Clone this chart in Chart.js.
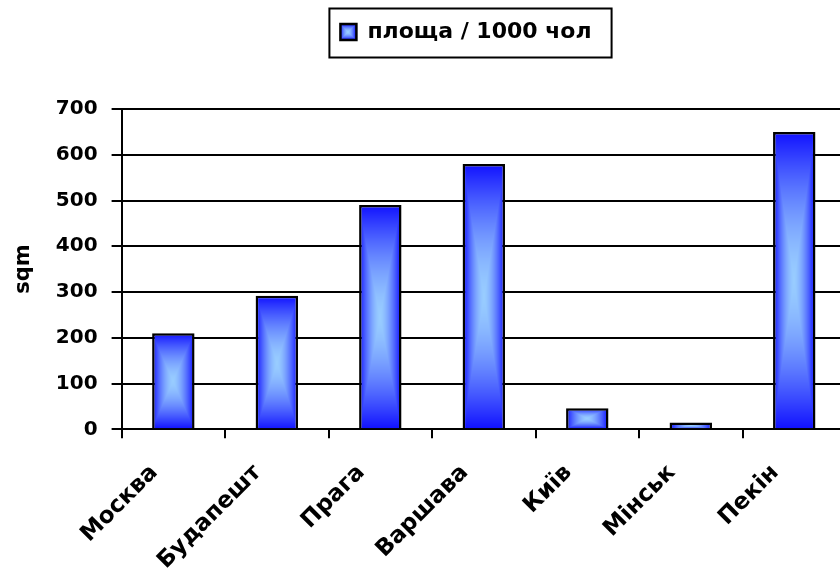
<!DOCTYPE html>
<html>
<head>
<meta charset="utf-8">
<script src="https://cdn.jsdelivr.net/npm/chart.js@4.4.0/dist/chart.umd.min.js"></script>
<style>
  html, body { margin: 0; padding: 0; background: #fff; overflow: hidden; }
  canvas { display: block; }
</style>
</head>
<body>
<canvas id="chart" width="846" height="570"></canvas>
<script>
// dati
const cities = ['Москва', 'Будапешт', 'Прага', 'Варшава', 'Київ', 'Мінськ', 'Пекін'];
const areaPer1000 = [210, 292, 490, 580, 46, 15, 650];
const seriesLabel = 'площа / 1000 чол';
const yTitle = 'sqm';
const yMin = 0, yMax = 700, yStep = 100;

const FONT = "'DejaVu Sans', sans-serif";
const BAR_PCT = 0.41;
const LEGEND_SHIFT = 43;   // la legenda non è centrata sul canvas ma spostata a destra

// gradiente "dal centro" stile Excel: blu ai bordi, azzurro al centro
const EDGE = [16, 16, 255];
const CENTER = [152, 204, 255];
const patternCache = {};

function rectGradient(ctx, left, top, w, h) {
    w = Math.max(1, Math.round(w));
    h = Math.max(1, Math.round(h));
    const key = w + 'x' + h;
    let off = patternCache[key];
    if (!off) {
        off = document.createElement('canvas');
        off.width = w;
        off.height = h;
        const octx = off.getContext('2d');
        const img = octx.createImageData(w, h);
        const hw = w / 2, hh = h / 2;
        for (let j = 0; j < h; j++) {
            for (let i = 0; i < w; i++) {
                let t = Math.min(1, Math.max(Math.abs(i + 0.5 - hw) / hw, Math.abs(j + 0.5 - hh) / hh));
                t = Math.pow(t, 1.6);   // centro chiaro più largo, bordi blu netti
                const p = (j * w + i) * 4;
                img.data[p]     = CENTER[0] + (EDGE[0] - CENTER[0]) * t;
                img.data[p + 1] = CENTER[1] + (EDGE[1] - CENTER[1]) * t;
                img.data[p + 2] = CENTER[2] + (EDGE[2] - CENTER[2]) * t;
                img.data[p + 3] = 255;
            }
        }
        octx.putImageData(img, 0, 0);
        patternCache[key] = off;
    }
    const pat = ctx.createPattern(off, 'no-repeat');
    pat.setTransform(new DOMMatrix().translate(Math.round(left), Math.round(top)));
    return pat;
}

function barFill(c) {
    const chart = c.chart;
    const xs = chart.scales.x, ys = chart.scales.y;
    if (c.type !== 'data' || !chart.chartArea || !xs || !ys) return 'rgb(60, 90, 255)';
    const cx = xs.getPixelForValue(c.dataIndex);
    const w = xs.width / cities.length * BAR_PCT;
    const top = ys.getPixelForValue(areaPer1000[c.dataIndex]);
    const base = ys.getPixelForValue(0);
    return rectGradient(chart.ctx, cx - w / 2, top, w, base - top);
}

// legenda: spostamento, marker sfumato e riquadro nero
const legendFrame = {
    id: 'legendFrame',
    afterLayout(chart) {
        const lg = chart.legend;
        if (!lg) return;
        lg.left += LEGEND_SHIFT;
        lg.right += LEGEND_SHIFT;
    },
    beforeDraw(chart) {
        const lg = chart.legend;
        if (!lg || !lg.legendHitBoxes || !lg.legendHitBoxes.length) return;
        const hb = lg.legendHitBoxes[0];
        const lab = lg.options.labels;
        const fs = lab.font.size;
        const top = hb.top + Math.max((fs - lab.boxHeight) / 2, 0);
        lg.legendItems[0].fillStyle = rectGradient(chart.ctx, hb.left, top, lab.boxWidth, lab.boxHeight);
    },
    afterDraw(chart) {
        const lg = chart.legend;
        if (!lg || !lg.legendHitBoxes || !lg.legendHitBoxes.length) return;
        const hb = lg.legendHitBoxes[0];
        const ctx = chart.ctx;
        ctx.save();
        ctx.strokeStyle = '#000';
        ctx.lineWidth = 2;
        ctx.strokeRect(hb.left - 11, hb.top - 12.5, hb.width + 31, hb.height + 27);
        ctx.restore();
    }
};

new Chart(document.getElementById('chart'), {
    type: 'bar',
    data: {
        labels: cities,
        datasets: [{
            label: seriesLabel,
            data: areaPer1000,
            backgroundColor: barFill,
            borderColor: '#000',
            borderWidth: 2.5,
            categoryPercentage: 1,
            barPercentage: BAR_PCT
        }]
    },
    options: {
        responsive: false,
        animation: false,
        events: [],
        layout: { padding: { top: 11, left: 0, right: 0, bottom: 0 } },
        plugins: {
            legend: {
                position: 'top',
                labels: {
                    color: '#000',
                    font: { family: FONT, size: 22, weight: 'bold' },
                    boxWidth: 16,
                    boxHeight: 16,
                    padding: 10
                }
            },
            // spaziatore vuoto tra legenda e area del grafico
            subtitle: {
                display: true,
                text: '',
                weight: 500,
                font: { size: 1, lineHeight: 1 },
                padding: { top: 0, bottom: 55 }
            },
            tooltip: { enabled: false }
        },
        scales: {
            x: {
                offset: true,
                grid: {
                    offset: true,
                    drawOnChartArea: false,
                    drawTicks: true,
                    tickLength: 9,
                    color: '#000',
                    lineWidth: 2
                },
                border: { color: '#000', width: 2 },
                ticks: {
                    color: '#000',
                    font: { family: FONT, size: 23, weight: 'bold' },
                    minRotation: 45,
                    maxRotation: 45,
                    autoSkip: false,
                    padding: 21,
                    labelOffset: -19
                },
                afterFit(scale) { scale.height = 140.7; }
            },
            y: {
                min: yMin,
                max: yMax,
                grid: {
                    color: '#000',
                    lineWidth: 2,
                    tickLength: 10
                },
                border: { color: '#000', width: 2 },
                ticks: {
                    stepSize: yStep,
                    color: '#000',
                    font: { family: FONT, size: 20, weight: 'bold' },
                    padding: 14
                },
                title: {
                    display: true,
                    text: yTitle,
                    color: '#000',
                    font: { family: FONT, size: 21, weight: 'bold' },
                    padding: { top: 11, bottom: 0 }
                },
                afterFit(scale) { scale.width = 121.6; }
            }
        }
    },
    plugins: [legendFrame]
});
</script>
</body>
</html>
